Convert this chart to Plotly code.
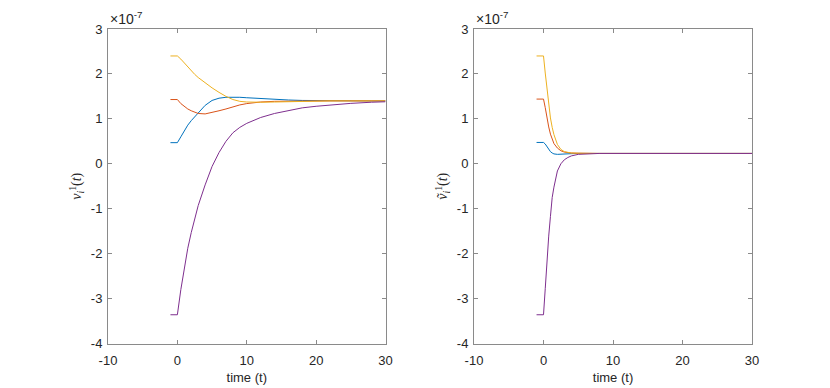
import plotly.graph_objects as go
from plotly.subplots import make_subplots

# values are in units of 1e-7
t_left = [-1, 0, 0.5, 1, 1.5, 2, 2.5, 3, 4, 5, 6, 7, 8, 9, 10, 11, 12, 14, 16, 18, 20, 22, 25, 28, 30]
v_blue = [0.47, 0.47, 0.60, 0.74, 0.86, 0.96, 1.05, 1.14, 1.30, 1.41, 1.46, 1.48, 1.485, 1.48, 1.47, 1.46,
          1.45, 1.43, 1.42, 1.41, 1.405, 1.40, 1.40, 1.40, 1.40]
v_red = [1.43, 1.43, 1.34, 1.27, 1.22, 1.18, 1.15, 1.12, 1.11, 1.14, 1.18, 1.22, 1.27, 1.31, 1.34, 1.36,
         1.375, 1.39, 1.395, 1.40, 1.40, 1.40, 1.40, 1.40, 1.40]
v_yellow = [2.40, 2.40, 2.33, 2.24, 2.15, 2.07, 1.99, 1.92, 1.80, 1.69, 1.59, 1.50, 1.43, 1.39, 1.375, 1.37,
            1.37, 1.375, 1.385, 1.39, 1.395, 1.40, 1.40, 1.40, 1.40]
v_purple = [-3.36, -3.36, -2.80, -2.30, -1.88, -1.53, -1.21, -0.93, -0.47, -0.06, 0.25, 0.50, 0.69, 0.81,
            0.90, 0.97, 1.03, 1.12, 1.19, 1.245, 1.28, 1.31, 1.345, 1.37, 1.38]

t_right = [-1, 0, 0.25, 0.5, 0.75, 1, 1.25, 1.5, 2, 2.5, 3, 3.5, 4, 5, 6, 7, 8, 10, 15, 20, 30]
w_blue = [0.475, 0.475, 0.44, 0.38, 0.32, 0.27, 0.24, 0.22, 0.21, 0.21, 0.215, 0.22, 0.225, 0.23, 0.23,
          0.23, 0.23, 0.23, 0.23, 0.23, 0.23]
w_red = [1.44, 1.44, 1.25, 1.02, 0.82, 0.66, 0.54, 0.45, 0.35, 0.29, 0.26, 0.245, 0.24, 0.235, 0.23,
         0.23, 0.23, 0.23, 0.23, 0.23, 0.23]
w_yellow = [2.40, 2.40, 2.02, 1.64, 1.30, 1.02, 0.81, 0.65, 0.43, 0.32, 0.27, 0.25, 0.24, 0.235, 0.23,
            0.23, 0.23, 0.23, 0.23, 0.23, 0.23]
w_purple = [-3.36, -3.36, -2.78, -2.15, -1.61, -1.17, -0.75, -0.52, -0.16, 0.0, 0.09, 0.14, 0.175, 0.21,
            0.22, 0.23, 0.23, 0.23, 0.23, 0.23, 0.23]

x_ticks = [-10, 0, 10, 20, 30]
x_ticklabels = ["-10", "0", "10", "20", "30"]
y_ticks = [-4, -3, -2, -1, 0, 1, 2, 3]
y_ticklabels = ["-4", "-3", "-2", "-1", "0", "1", "2", "3"]

colors = ["#0072BD", "#D95319", "#EDB120", "#7E2F8E"]

W, H = 830, 388
fig = make_subplots(rows=1, cols=2)

for col, t, series in [(1, t_left, [v_blue, v_red, v_yellow, v_purple]),
                       (2, t_right, [w_blue, w_red, w_yellow, w_purple])]:
    for c, v in zip(colors, series):
        fig.add_trace(go.Scatter(x=t, y=v, mode="lines", line=dict(color=c, width=1),
                                 showlegend=False, hoverinfo="skip"), row=1, col=col)

axis_common = dict(
    showgrid=False, zeroline=False, showline=True, linecolor="#8a8a8a", linewidth=1,
    mirror="ticks", ticks="inside", ticklen=4, tickcolor="#8a8a8a",
    tickfont=dict(family="Liberation Sans", size=13, color="#262626"), automargin=False,
)

ydom = [1 - 343.5 / H, 1 - 29 / H]
fig.update_xaxes(range=[-10, 30], tickvals=x_ticks, ticktext=x_ticklabels, ticklabelstandoff=5, **axis_common)
fig.update_yaxes(range=[-4, 3], tickvals=y_ticks, ticktext=y_ticklabels, domain=ydom, ticklabelstandoff=2,
                 **axis_common)
fig.update_xaxes(domain=[108 / W, 385.5 / W], row=1, col=1)
fig.update_xaxes(domain=[474 / W, 752 / W], row=1, col=2)
fig.update_xaxes(title=dict(text="time (t)", font=dict(family="Liberation Sans", size=13, color="#262626"),
                            standoff=5))

label_font = dict(family="Liberation Serif", size=14, color="#262626")
fig.update_yaxes(title=dict(text="<i>v</i><sub><i>i</i></sub><sup>1</sup>(<i>t</i>)", font=label_font,
                            standoff=5), row=1, col=1)
fig.update_yaxes(title=dict(text="<i>v\u0303</i><sub><i>i</i></sub><sup>1</sup>(<i>t</i>)", font=label_font,
                            standoff=5), row=1, col=2)

for x0 in [108 / W, 474 / W]:
    fig.add_annotation(text="\u00d710<sup>-7</sup>", x=x0, y=ydom[1], xref="paper", yref="paper",
                       xanchor="left", yanchor="bottom", showarrow=False, yshift=0,
                       font=dict(family="Liberation Sans", size=14, color="#262626"))

fig.update_layout(
    width=W, height=H,
    margin={"r": 0, "t": 0, "l": 0, "b": 0},
    plot_bgcolor="white", paper_bgcolor="white",
)

fig.write_html("out.html", config={"displayModeBar": False},
               post_script="document.body.style.margin='0';")
